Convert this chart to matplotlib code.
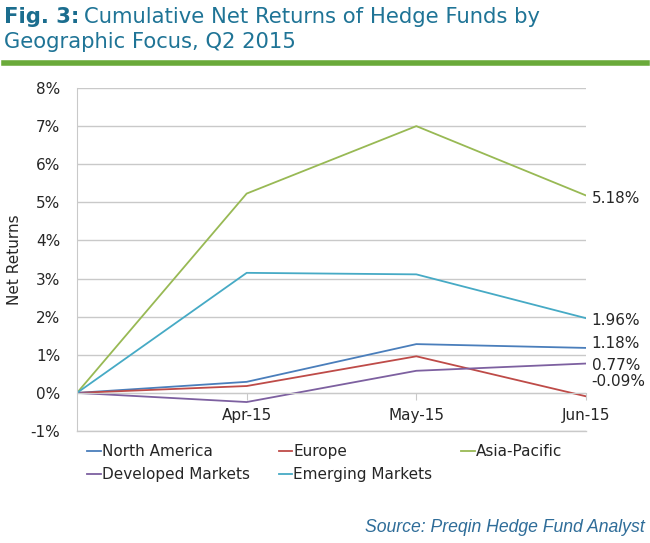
import matplotlib.pyplot as plt
from matplotlib.ticker import FuncFormatter

# data (cumulative net return, %)
months = ['', 'Apr-15', 'May-15', 'Jun-15']
series_names = ['North America', 'Europe', 'Asia-Pacific',
                'Developed Markets', 'Emerging Markets']
north_america = [0.0, 0.29, 1.28, 1.18]
europe = [0.0, 0.18, 0.96, -0.09]
asia_pacific = [0.0, 5.23, 7.00, 5.18]
developed = [0.0, -0.24, 0.58, 0.77]
emerging = [0.0, 3.15, 3.11, 1.96]
end_labels = ['1.18%', '-0.09%', '5.18%', '0.77%', '1.96%']

# layout only: y where each end label is placed so they don't collide
label_y = [1.29, 0.29, 5.11, 0.71, 1.89]
colors = ['#4a7ebb', '#be4b48', '#98b954', '#7d60a0', '#46aac5']

plt.rcParams['font.family'] = ['DejaVu Sans']
txt = '#262626'
grid_c = '#c9c9c9'

fig = plt.figure(figsize=(6.5, 5.43), dpi=100)
ax = fig.add_axes([77 / 650, 112 / 543, 509 / 650, 343 / 543])

x = list(range(len(months)))
all_series = [north_america, europe, asia_pacific, developed, emerging]
lines = []
for name, vals, c in zip(series_names, all_series, colors):
    ln, = ax.plot(x, vals, color=c, lw=1.3, label=name)
    lines.append(ln)

for vals, lab, ly in zip(all_series, end_labels, label_y):
    ax.annotate(lab, xy=(x[-1], ly), xytext=(4, 0), textcoords='offset points',
                ha='left', va='center', fontsize=11, color=txt,
                annotation_clip=False)

ax.set_xlim(0, 3)
ax.set_ylim(-1, 8)
ax.set_yticks(range(-1, 9))
ax.yaxis.set_major_formatter(FuncFormatter(lambda v, p: f'{v:.0f}%'))
ax.set_xticks(x[1:])
ax.set_xticklabels(months[1:])
ax.grid(axis='y', color=grid_c, lw=1)
ax.axhline(-1, color=grid_c, lw=1, clip_on=False, zorder=0.5)
ax.set_axisbelow(True)

for s in ['top', 'right']:
    ax.spines[s].set_visible(False)
ax.spines['left'].set_color(grid_c)
ax.spines['bottom'].set_position(('data', 0))
ax.spines['bottom'].set_color(grid_c)
ax.tick_params(axis='y', length=0, pad=12, labelsize=11, labelcolor=txt)
ax.tick_params(axis='x', length=5, color=grid_c, pad=6, labelsize=11,
               labelcolor=txt)
ax.set_ylabel('Net Returns', fontsize=11, color=txt, labelpad=6)

# legend reads row by row: NA, Europe, Asia-Pacific / Developed, Emerging
order = [0, 3, 1, 4, 2]
leg = fig.legend([lines[i] for i in order], [series_names[i] for i in order],
                 loc='upper left', bbox_to_anchor=(87 / 650, 1 - 444 / 543),
                 ncol=3, frameon=False, fontsize=11, handlelength=0.9,
                 handletextpad=0.05, columnspacing=1.9, labelspacing=0.55,
                 borderaxespad=0, borderpad=0)
for t in leg.get_texts():
    t.set_color(txt)

# title block: bold figure number followed by regular title text
title_c = '#1f7496'
fig_num = fig.text(4 / 650, 1 - 23 / 543, 'Fig. 3:', fontsize=15.2,
                   fontweight='bold', color='#1b6d8e', va='baseline')
fig.canvas.draw()
bb = fig_num.get_window_extent()
fig.text((bb.x1 + 5) / 650, 1 - 23 / 543,
         'Cumulative Net Returns of Hedge Funds by',
         fontsize=15.2, color=title_c, va='baseline')
fig.text(4 / 650, 1 - 48 / 543, 'Geographic Focus, Q2 2015',
         fontsize=15.2, color=title_c, va='baseline')
fig.add_artist(plt.Line2D([4 / 650, 647 / 650], [1 - 62.5 / 543] * 2,
                          color='#6aaa3a', lw=4, transform=fig.transFigure))

fig.text(645 / 650, 1 - 528 / 543, 'Source: Preqin Hedge Fund Analyst',
         fontsize=12.7, style='italic', color='#2f6d99', ha='right',
         va='center', family='Liberation Sans')

fig.savefig('out.png', dpi=100)
